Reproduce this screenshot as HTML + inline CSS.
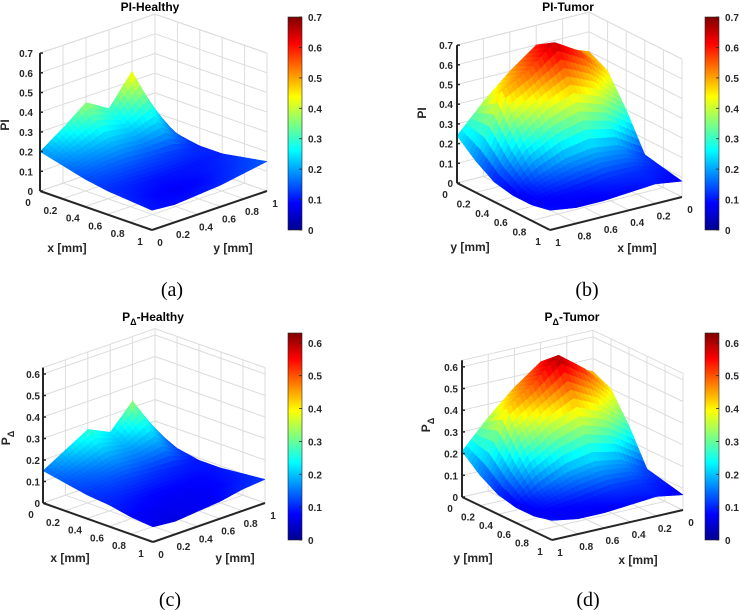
<!DOCTYPE html>
<html><head><meta charset="utf-8"><style>
html,body{margin:0;padding:0;background:#fff;}
svg{display:block;font-family:"Liberation Sans",sans-serif;}
.tk{font-size:10px;font-weight:bold;fill:#262626;}
.al{font-size:12px;font-weight:bold;fill:#262626;}
.ti{font-size:12px;font-weight:bold;fill:#000;}
.cap{font-family:"Liberation Serif",serif;font-size:20px;fill:#000;}
</style></head><body>
<svg id="fig" width="740" height="610" viewBox="0 0 740 610" xmlns="http://www.w3.org/2000/svg">
<defs>
<linearGradient id="jet" x1="0" y1="1" x2="0" y2="0">
<stop offset="0" stop-color="#00008f"/><stop offset="0.125" stop-color="#0000ff"/><stop offset="0.375" stop-color="#00ffff"/><stop offset="0.625" stop-color="#ffff00"/><stop offset="0.875" stop-color="#ff0000"/><stop offset="1" stop-color="#800000"/>
</linearGradient>
</defs>
</svg>
<script>
const gridTicks = [0, 0.2, 0.4, 0.6, 0.8, 1];
const gridLabels = ["0", "0.2", "0.4", "0.6", "0.8", "1"];
const zTicksPI = [0, 0.1, 0.2, 0.3, 0.4, 0.5, 0.6, 0.7];
const zTicksPD = [0, 0.1, 0.2, 0.3, 0.4, 0.5, 0.6];
const cbarTicksPI = [0, 0.1, 0.2, 0.3, 0.4, 0.5, 0.6, 0.7];
const cbarTicksPD = [0, 0.1, 0.2, 0.3, 0.4, 0.5, 0.6];
// rows: x = 0..1, cols: y = 0..1
const piHealthy = [
 [0.20,0.28,0.37,0.30,0.45,0.20],
 [0.17,0.20,0.23,0.22,0.26,0.13],
 [0.14,0.15,0.15,0.14,0.13,0.11],
 [0.12,0.11,0.10,0.10,0.10,0.11],
 [0.11,0.09,0.08,0.09,0.11,0.13],
 [0.10,0.09,0.10,0.11,0.13,0.15]];
const piTumor = [
 [0.50,0.45,0.30,0.12,0.10,0.08],
 [0.55,0.58,0.40,0.20,0.12,0.10],
 [0.60,0.66,0.45,0.22,0.12,0.09],
 [0.50,0.55,0.40,0.20,0.10,0.08],
 [0.38,0.48,0.30,0.15,0.09,0.08],
 [0.24,0.16,0.10,0.08,0.08,0.10]];
const pdHealthy = [
 [0.15,0.21,0.27,0.22,0.33,0.16],
 [0.13,0.15,0.18,0.17,0.20,0.11],
 [0.11,0.12,0.12,0.11,0.10,0.09],
 [0.10,0.09,0.08,0.08,0.08,0.09],
 [0.08,0.07,0.07,0.07,0.08,0.10],
 [0.07,0.06,0.07,0.08,0.10,0.11]];
const pdTumor = [
 [0.44,0.40,0.27,0.11,0.09,0.07],
 [0.49,0.52,0.36,0.18,0.11,0.09],
 [0.54,0.61,0.41,0.20,0.11,0.08],
 [0.45,0.50,0.36,0.18,0.09,0.07],
 [0.34,0.42,0.27,0.13,0.08,0.07],
 [0.21,0.14,0.09,0.07,0.07,0.09]];

const NS = "http://www.w3.org/2000/svg";
const svg = document.getElementById('fig');
function mk(tag, attrs, parent, text) {
  const e = document.createElementNS(NS, tag);
  for (const k in attrs) e.setAttribute(k, attrs[k]);
  if (text !== undefined) e.textContent = text;
  (parent || svg).appendChild(e);
  return e;
}
function jet(t) {
  t = Math.max(0, Math.min(1, t));
  const c = v => Math.round(255 * Math.max(0, Math.min(1, v)));
  return `rgb(${c(1.5 - Math.abs(4*t - 3))},${c(1.5 - Math.abs(4*t - 2))},${c(1.5 - Math.abs(4*t - 1))})`;
}

const panels = [
 {id:'pi-healthy', data:piHealthy, zt:zTicksPI, zmax:0.7, cmax:0.7, cb:cbarTicksPI, view:'a', dx:0, dy:0,
  P:{ox:40,ax:112,ay:115,oy:191,bx:39,by:-39,kz:197}, title:'PI-Healthy', tx:150, ty:11, zl:33, cap:'(a)', capx:172, capy:296,
  cbx:288, cby:17, cbh:213, zlab:'PI', zlx:9, zly:125, xl:[67,252], yl:[233,252]},
 {id:'pi-tumor', data:piTumor, zt:zTicksPI, zmax:0.7, cmax:0.7, cb:cbarTicksPI, view:'b', dx:370, dy:0,
  P:{ox:219,ax:-132,ay:93,oy:150,bx:33,by:47,kz:197}, title:'PI-Tumor', tx:198, ty:11, zl:83, cap:'(b)', capx:217, capy:296,
  cbx:335, cby:17, cbh:213, zlab:'PI', zlx:56, zly:113, xl:[267,252], yl:[100,251]},
 {id:'pd-healthy', data:pdHealthy, zt:zTicksPD, zmax:0.63, cmax:0.63, cb:cbarTicksPD, view:'a', dx:0, dy:310,
  P:{ox:43,ax:110,ay:112,oy:193,bx:39,by:-39,kz:215}, title:'-Healthy', tx:153, ty:11, zl:40, cap:'(c)', capx:170, capy:296,
  cbx:288, cby:23, cbh:207, zlab:'P', zlx:10, zly:128, xl:[70,252], yl:[235,252]},
 {id:'pd-tumor', data:pdTumor, zt:zTicksPD, zmax:0.63, cmax:0.63, cb:cbarTicksPD, view:'b', dx:370, dy:310,
  P:{ox:223,ax:-131,ay:90,oy:157,bx:30,by:43,kz:217}, title:'-Tumor', tx:202, ty:11, zl:88, cap:'(d)', capx:218, capy:296,
  cbx:335, cby:23, cbh:207, zlab:'P', zlx:60, zly:115, xl:[268,254], yl:[103,252]}
];

function bilin(d, x, y) {
  const n = d.length - 1;
  let i = Math.min(n - 1, Math.floor(x * n)), j = Math.min(n - 1, Math.floor(y * n));
  const u = x * n - i, v = y * n - j;
  return d[i][j]*(1-u)*(1-v) + d[i+1][j]*u*(1-v) + d[i][j+1]*(1-u)*v + d[i+1][j+1]*u*v;
}

panels.forEach(p => {
  const g = mk('g', {transform:`translate(${p.dx},${p.dy})`});
  
  
  const P = p.P;
  const pr = (x, y, z) => [P.ox + P.ax*x + P.ay*y, P.oy + P.bx*x + P.by*y - P.kz*z];
  const line = (a, b, attrs, name) => {
    const e = mk('line', Object.assign({x1:a[0].toFixed(1), y1:a[1].toFixed(1), x2:b[0].toFixed(1), y2:b[1].toFixed(1)}, attrs), g);
    
    
    return e;
  };
  const gs = {stroke:'#dcdcdc', 'stroke-width':1};
  const yWall = p.view === 'a' ? 1 : 0;
  gridTicks.forEach(t => {
    line(pr(0, t, 0), pr(0, t, p.zmax), gs, 'gridline');
    line(pr(t, yWall, 0), pr(t, yWall, p.zmax), gs, 'gridline');
    line(pr(t, 0, 0), pr(t, 1, 0), gs, 'gridline');
    line(pr(0, t, 0), pr(1, t, 0), gs, 'gridline');
  });
  p.zt.forEach(z => {
    line(pr(0, 0, z), pr(0, 1, z), gs, 'gridline');
    line(pr(0, yWall, z), pr(1, yWall, z), gs, 'gridline');
  });
  line(pr(0, 0, p.zmax), pr(0, 1, p.zmax), gs, 'gridline');
  line(pr(0, yWall, p.zmax), pr(1, yWall, p.zmax), gs, 'gridline');

  const N = 30, quads = [];
  for (let i = 0; i < N; i++) for (let j = 0; j < N; j++) {
    const x0 = i/N, x1 = (i+1)/N, y0 = j/N, y1 = (j+1)/N;
    const pts = [[x0,y0],[x1,y0],[x1,y1],[x0,y1]].map(q => pr(q[0], q[1], bilin(p.data, q[0], q[1])));
    const zc = bilin(p.data, (x0+x1)/2, (y0+y1)/2);
    const xc = (x0+x1)/2, yc = (y0+y1)/2;
    const key = p.view === 'a' ? (xc - yc) : (xc + yc);
    quads.push({pts, zc, key});
  }
  quads.sort((a, b) => a.key - b.key);
  const sg = mk('g', {}, g);
  
  
  quads.forEach(q => {
    const col = jet(q.zc / p.cmax);
    const e = mk('polygon', {points:q.pts.map(s => s[0].toFixed(1)+','+s[1].toFixed(1)).join(' '), fill:col, stroke:col, 'stroke-width':0.5}, sg);
    
    
  });

  const as = {stroke:'#262626', 'stroke-width':2};
  const zc0 = p.view === 'a' ? [0, 0] : [1, 0];
  line(pr(zc0[0], zc0[1], 0), pr(zc0[0], zc0[1], p.zmax), as, 'z-axis');
  if (p.view === 'a') {
    line(pr(0,0,0), pr(1,0,0), as, 'x-axis');
    line(pr(1,0,0), pr(1,1,0), as, 'y-axis');
  } else {
    line(pr(1,0,0), pr(1,1,0), as, 'y-axis');
    line(pr(1,1,0), pr(0,1,0), as, 'x-axis');
  }
  const ts = {stroke:'#262626', 'stroke-width':1.5};
  p.zt.forEach(z => {
    const a = pr(zc0[0], zc0[1], z);
    line(a, [a[0]+3, a[1]], ts, 'z-tick');
    const t = mk('text', {x:p.zl, y:(a[1]+4).toFixed(1), 'text-anchor':'end', class:'tk'}, g, String(z));
    
    
  });
  gridTicks.forEach((t, k) => {
    let a1, a2;
    if (p.view === 'a') { a1 = pr(t, 0, 0); a2 = pr(1, t, 0); }
    else { a1 = pr(1, t, 0); a2 = pr(t, 1, 0); }
    const l1 = mk('text', {x:(a1[0]-12).toFixed(1), y:(a1[1]+15).toFixed(1), 'text-anchor':'middle', class:'tk'}, g, gridLabels[k]);
    
    
    const l2 = mk('text', {x:(a2[0]+8).toFixed(1), y:(a2[1]+16).toFixed(1), 'text-anchor':'middle', class:'tk'}, g, gridLabels[k]);
    
    
  });
  const xlab = mk('text', {x:p.xl[0], y:p.xl[1], 'text-anchor':'middle', class:'al'}, g, 'x [mm]');
   
  const ylab = mk('text', {x:p.yl[0], y:p.yl[1], 'text-anchor':'middle', class:'al'}, g, 'y [mm]');
   
  const zlab = mk('text', {x:0, y:0, 'text-anchor':'middle', class:'al', transform:`translate(${p.zlx},${p.zly}) rotate(-90)`}, g, p.zlab);
  if (p.zlab === 'P') mk('tspan', {'font-size':'9px', dy:'4'}, zlab, 'Δ');
   
  const ti = mk('text', {x:p.tx, y:p.ty, 'text-anchor':'middle', class:'ti'}, g);
  if (p.zlab === 'P') {
    ti.textContent = 'P';
    mk('tspan', {'font-size':'9px', dy:'4'}, ti, 'Δ');
    mk('tspan', {dy:'-4'}, ti, p.title);
  } else ti.textContent = p.title;
   
  const cb = mk('rect', {x:p.cbx, y:p.cby, width:14, height:p.cbh, fill:'url(#jet)', stroke:'#262626', 'stroke-width':0.6}, g);
   
  p.cb.forEach(v => {
    const yy = p.cby + p.cbh * (1 - v / p.cmax);
    line([p.cbx+14, yy], [p.cbx+11, yy], {stroke:'#262626','stroke-width':0.8}, 'colorbar-tick');
    const t = mk('text', {x:p.cbx+20, y:(yy+4).toFixed(1), class:'tk'}, g, String(v));
     
  });
  const cap = mk('text', {x:p.capx, y:p.capy, 'text-anchor':'middle', class:'cap'}, g, p.cap);
   
});
</script>
</body></html>
